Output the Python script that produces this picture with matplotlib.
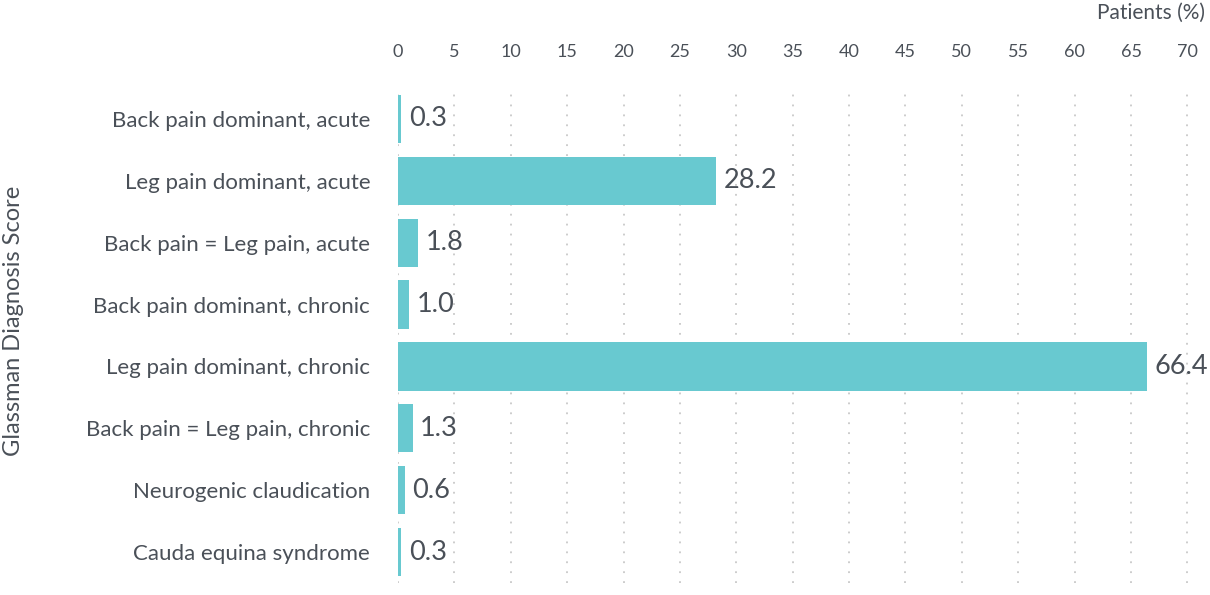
import matplotlib.pyplot as plt

# data
categories = [
    "Back pain dominant, acute",
    "Leg pain dominant, acute",
    "Back pain = Leg pain, acute",
    "Back pain dominant, chronic",
    "Leg pain dominant, chronic",
    "Back pain = Leg pain, chronic",
    "Neurogenic claudication",
    "Cauda equina syndrome",
]
values = [0.3, 28.2, 1.8, 1.0, 66.4, 1.3, 0.6, 0.3]
value_labels = ["0.3", "28.2", "1.8", "1.0", "66.4", "1.3", "0.6", "0.3"]
xticks = list(range(0, 75, 5))

bar_color = "#68c9d0"
text_color = "#4a5058"

plt.rcParams['font.family'] = ['Lato', 'DejaVu Sans']

fig = plt.figure(figsize=(12.1, 5.95), dpi=100)
ax = fig.add_axes([0.3289, 0.0202, 0.6711, 0.8318])

pos = list(range(len(categories)))
ax.barh(pos, values, height=0.78, color=bar_color, zorder=2)

for p, v, lab in zip(pos, values, value_labels):
    ax.annotate(lab, (v, p), xytext=(5.5, 0), textcoords="offset points",
                ha="left", va="center", fontsize=19.5, color=text_color,
                annotation_clip=False)

ax.set_xlim(0, 72)
ax.set_ylim(len(categories) - 0.5, -0.5)
ax.set_yticks(pos)
ax.set_yticklabels(categories, fontsize=16, color=text_color)
ax.set_xticks(xticks)
ax.set_xticklabels([str(t) for t in xticks], fontsize=13, color=text_color)
ax.xaxis.tick_top()
ax.tick_params(axis="x", length=0, pad=20)
ax.tick_params(axis="y", length=0, pad=20)

ax.grid(axis="x", linestyle=(0, (1, 4.5)), color="#c8c8c8", linewidth=1.3, zorder=0)
ax.set_axisbelow(True)
for s in ax.spines.values():
    s.set_visible(False)

# axis titles placed in figure coords so they stay inside the canvas
fig.text(0.011, 0.46, "Glassman Diagnosis Score", rotation=90, ha="center", va="center",
         fontsize=17, color=text_color)
fig.text(0.996, 0.978, "Patients (%)", ha="right", va="center", fontsize=15, color=text_color)

fig.savefig("out.png", dpi=100)
